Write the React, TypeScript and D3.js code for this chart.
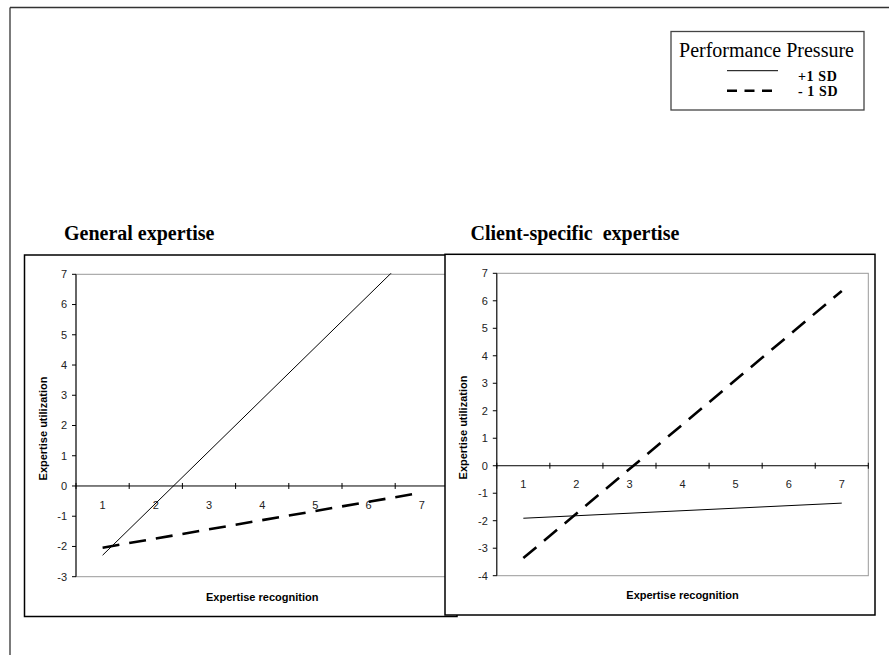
import React from "react";
import * as d3 from "d3";

const categories = [1, 2, 3, 4, 5, 6, 7];
const seriesNames = ["+1 SD", "- 1 SD"];
// General expertise (endpoints read at categories 1 and 7)
const generalX = [1, 7];
const generalHigh = [-2.29, 8.03];
const generalLow = [-2.04, -0.22];
// Client-specific expertise
const clientX = [1, 7];
const clientHigh = [-1.91, -1.36];
const clientLow = [-3.36, 6.36];
const leftYTicks = [-3, -2, -1, 0, 1, 2, 3, 4, 5, 6, 7];
const rightYTicks = [-4, -3, -2, -1, 0, 1, 2, 3, 4, 5, 6, 7];

const SERIF = "'Liberation Serif', 'Times New Roman', serif";
const SANS = "'Liberation Sans', Arial, sans-serif";

type PanelProps = {
  id: string;
  box: { x: number; y: number; w: number; h: number };
  plot: { x0: number; x1: number; y0: number; y1: number };
  yDomain: [number, number];
  yTicks: number[];
  xs: number[];
  high: number[];
  low: number[];
  yTitleX: number;
  xTitleY: number;
  xLabelDy: number;
};

function Panel(p: PanelProps) {
  const x = d3.scaleLinear().domain([0.5, 7.5]).range([p.plot.x0, p.plot.x1]);
  const y = d3.scaleLinear().domain(p.yDomain).range([p.plot.y1, p.plot.y0]);
  const line = d3
    .line<number>()
    .x((_, i) => x(p.xs[i]))
    .y((d) => y(d));
  const zeroY = y(0);
  const boundaries = d3.range(0.5, 8, 1);
  return (
    <g>
      <rect x={p.box.x} y={p.box.y} width={p.box.w} height={p.box.h} fill="#fff" stroke="#000" strokeWidth={1.5} />
      <defs>
        <clipPath id={p.id}>
          <rect x={p.plot.x0} y={p.plot.y0 - 1} width={p.plot.x1 - p.plot.x0} height={p.plot.y1 - p.plot.y0 + 2} />
        </clipPath>
      </defs>
      <rect x={p.plot.x0} y={p.plot.y0} width={p.plot.x1 - p.plot.x0} height={p.plot.y1 - p.plot.y0} fill="none" stroke="#999" strokeWidth={1} />
      {/* y axis */}
      <line x1={p.plot.x0} x2={p.plot.x0} y1={p.plot.y0} y2={p.plot.y1} stroke="#000" strokeWidth={1} />
      {p.yTicks.map((t) => (
        <g key={t}>
          <line x1={p.plot.x0 - 4} x2={p.plot.x0} y1={y(t)} y2={y(t)} stroke="#000" />
          <text x={p.plot.x0 - 9} y={y(t)} dy="0.35em" textAnchor="end" fontFamily={SANS} fontSize={11} fill="#222">
            {t}
          </text>
        </g>
      ))}
      {/* x axis at zero */}
      <line x1={p.plot.x0} x2={p.plot.x1} y1={zeroY} y2={zeroY} stroke="#000" strokeWidth={1} />
      {boundaries.map((b) => (
        <line key={b} x1={x(b)} x2={x(b)} y1={zeroY - 3} y2={zeroY + 3} stroke="#000" />
      ))}
      {categories.map((c) => (
        <text key={c} x={x(c)} y={zeroY + p.xLabelDy} dy="0.35em" textAnchor="middle" fontFamily={SANS} fontSize={11} fill="#222">
          {c}
        </text>
      ))}
      <g clipPath={`url(#${p.id})`}>
        <path d={line(p.high) || ""} fill="none" stroke="#000" strokeWidth={1} />
        <path d={line(p.low) || ""} fill="none" stroke="#000" strokeWidth={2.6} strokeDasharray="17 10" />
      </g>
      <text
        transform={`translate(${p.yTitleX},${(p.plot.y0 + p.plot.y1) / 2 + 3}) rotate(-90)`}
        textAnchor="middle"
        dy="0.35em"
        fontFamily={SANS}
        fontWeight="bold"
        fontSize={11}
      >
        Expertise utilization
      </text>
      <text
        x={(p.plot.x0 + p.plot.x1) / 2}
        y={p.xTitleY}
        dy="0.35em"
        textAnchor="middle"
        fontFamily={SANS}
        fontWeight="bold"
        fontSize={11}
      >
        Expertise recognition
      </text>
    </g>
  );
}

export default function App() {
  return (
    <svg width={889} height={655} style={{ position: "absolute", left: 0, top: 0 }}>
      <rect width={889} height={655} fill="#fff" />
      {/* page frame */}
      <line x1={10} x2={889} y1={7.5} y2={7.5} stroke="#333" strokeWidth={1.3} />
      <line x1={10} x2={10} y1={7.5} y2={655} stroke="#333" strokeWidth={1.3} />

      {/* legend */}
      <rect x={671} y={31.5} width={193} height={78.5} fill="#fff" stroke="#444" strokeWidth={1.3} />
      <text x={766.5} y={50} dy="0.35em" textAnchor="middle" fontFamily={SERIF} fontSize={20}>
        Performance Pressure
      </text>
      <line x1={727} x2={778} y1={70.7} y2={70.7} stroke="#000" strokeWidth={1} />
      <line x1={727} x2={778} y1={90.7} y2={90.7} stroke="#000" strokeWidth={2.6} strokeDasharray="10 7.5" />
      <text x={798} y={76.5} dy="0.35em" fontFamily={SERIF} fontWeight="bold" fontSize={14} letterSpacing={0.6}>
        {seriesNames[0]}
      </text>
      <text x={798} y={91.5} dy="0.35em" fontFamily={SERIF} fontWeight="bold" fontSize={14} letterSpacing={0.6}>
        {seriesNames[1]}
      </text>

      {/* titles */}
      <text x={64} y={233} dy="0.35em" fontFamily={SERIF} fontWeight="bold" fontSize={20}>
        General expertise
      </text>
      <text x={470.5} y={233} dy="0.35em" fontFamily={SERIF} fontWeight="bold" fontSize={20} style={{ whiteSpace: "pre" }}>
        {"Client-specific  expertise"}
      </text>

      <Panel
        id="clipL"
        box={{ x: 24.5, y: 255, w: 432.5, h: 361.5 }}
        plot={{ x0: 76, x1: 448.4, y0: 274.3, y1: 576.7 }}
        yDomain={[-3, 7]}
        yTicks={leftYTicks}
        xs={generalX}
        high={generalHigh}
        low={generalLow}
        yTitleX={42.7}
        xTitleY={597.3}
        xLabelDy={19}
      />
      <Panel
        id="clipR"
        box={{ x: 445, y: 254.3, w: 430, h: 360.7 }}
        plot={{ x0: 496.8, x1: 868.3, y0: 273.3, y1: 575.7 }}
        yDomain={[-4, 7]}
        yTicks={rightYTicks}
        xs={clientX}
        high={clientHigh}
        low={clientLow}
        yTitleX={463.3}
        xTitleY={595}
        xLabelDy={18}
      />
    </svg>
  );
}
